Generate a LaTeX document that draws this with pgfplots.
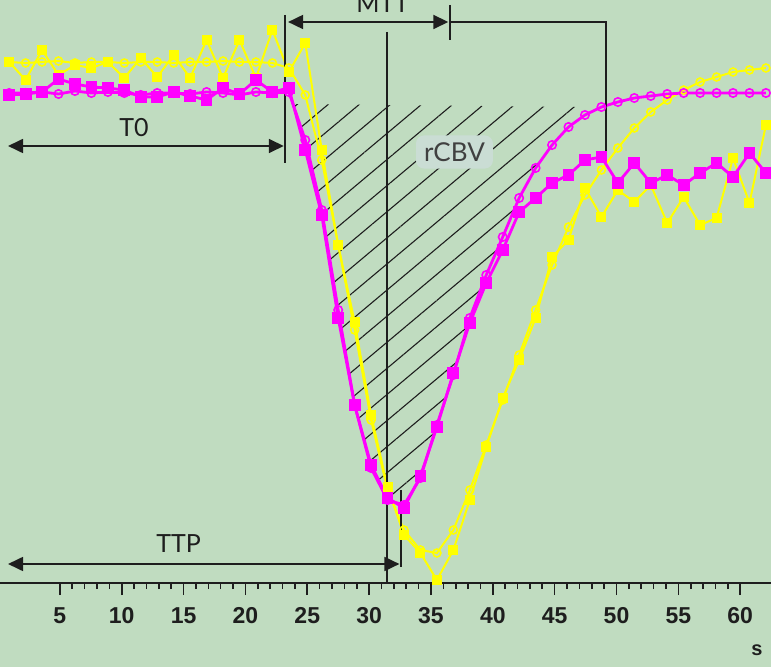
\documentclass[border=0pt]{standalone}
\usepackage{fontspec}
\setmainfont{Lato}
\newfontfamily\tickfont{Liberation Sans}
\usepackage{pgfplots}
\usepackage{pgfplotstable}
\pgfplotsset{compat=1.18}
\usetikzlibrary{arrows.meta,patterns.meta}

\definecolor{bg}{HTML}{C0DCC0}
\definecolor{ylw}{HTML}{FFFF00}
\definecolor{mag}{HTML}{FF00FF}
\definecolor{ink}{HTML}{1E1E1E}
\definecolor{boxbg}{HTML}{CADDD4}

% t = time (s); ys/yc = yellow raw/fit, ms/mc = magenta raw/fit (signal, arbitrary units)
\pgfplotstableread{
t     ys   yc   ms   mc
0.90  521  521  488  490
2.23  503  520  489  490
3.56  533  521  491  491
4.89  508  522  504  489
6.22  518  520  499  492
7.55  515  521  496  490
8.88  521  521  495  491
10.21 505  520  493  490
11.54 525  521  486  488
12.87 506  521  486  490
14.20 528  520  491  490
15.53 505  521  487  489
16.86 543  521  483  491
18.19 505  522  495  490
19.52 543  521  489  488
20.85 505  521  503  491
22.18 553  520  491  490
23.51 511  515  495  491
24.84 540  488  433  443
26.17 433  423  368  373
27.50 338  338  265  273
28.83 261  253  178  178
30.16 168  163  118  115
31.49 96   93   85   83
32.82 48   53   75   78
34.15 30   33   107  105
35.48 3    30   156  158
36.81 33   53   210  208
38.14 83   93   260  265
39.47 136  138  300  308
40.80 185  183  333  346
42.13 223  228  371  385
43.46 265  273  385  415
44.79 326  318  400  438
46.12 343  356  408  456
47.45 395  388  423  468
48.78 366  413  426  476
50.11 393  435  400  481
51.44 381  455  420  485
52.77 398  471  400  487
54.10 360  483  408  489
55.43 386  493  398  490
56.76 358  501  410  490
58.09 365  506  420  490
59.42 425  511  406  490
60.75 380  513  430  490
62.08 458  515  410  490
}\curves

% area under the fitted magenta curve (rCBV)
\pgfplotstableread{
t     y
23.77 479
24.84 443
26.17 373
27.50 273
28.83 178
30.16 115
31.49 83
32.82 78
34.15 105
35.48 158
36.81 208
38.14 265
39.47 308
40.80 346
42.13 385
43.46 415
44.79 438
46.12 456
46.75 476
}\hatch

\begin{document}
\begin{tikzpicture}
\begin{axis}[
    scale only axis,
    width=771pt, height=667pt,
    xmin=0.16, xmax=62.49, ymin=-84, ymax=583,
    axis x line=middle, axis y line=none,
    axis line style={-, ink, line width=1.6pt},
    x axis line style={-},
    axis background/.style={fill=bg},
    xtick={5,10,...,60}, minor x tick num=4,
    tick align=outside,
    major tick length=12pt, minor tick length=6pt,
    tick style={ink, line width=1.6pt},
    /pgf/number format/assume math mode=true,
    xticklabel style={font=\tickfont\bfseries\fontsize{23}{23}\selectfont, text=ink, yshift=-9pt},
    clip=false,
]
\addplot[draw=none, pattern={Lines[angle=40,distance=20pt,line width=1.1pt]}, pattern color=ink] table[x=t,y=y] {\hatch} -- cycle;

\addplot[ylw, line width=2pt, mark=o, mark size=4pt, mark options={line width=1.6pt}] table[x=t,y=yc] {\curves};
\addplot[ylw, line width=2pt, mark=square*, mark size=4pt] table[x=t,y=ys] {\curves};
\addplot[mag, line width=2.8pt, mark=o, mark size=4.2pt, mark options={line width=1.6pt}] table[x=t,y=mc] {\curves};
\addplot[mag, line width=2.8pt, mark=square*, mark size=4.5pt] table[x=t,y=ms] {\curves};

% annotations
\tikzset{tip/.tip={Triangle[length=15pt,width=14pt]}}
\draw[ink, line width=1.8pt, tip-tip] (0.81,437) -- (23.1,437);
\draw[ink, line width=1.8pt] (23.2,568) -- (23.2,420);
\draw[ink, line width=1.8pt, tip-tip] (23.45,561) -- (36.4,561);
\draw[ink, line width=1.8pt] (36.55,578) -- (36.55,543);
\draw[ink, line width=1.8pt] (36.55,561) -- (49.15,561) -- (49.15,420);
\draw[ink, line width=1.8pt] (31.45,551) -- (31.45,0);
\draw[ink, line width=1.8pt, tip-tip] (0.81,19) -- (32.45,19);
\draw[ink, line width=1.8pt] (32.58,93) -- (32.58,16);

\node[font=\fontsize{25}{25}\selectfont, text=ink, anchor=base] at (axis cs:11.0,446) {T0};
\node[font=\fontsize{25}{25}\selectfont, text=ink, anchor=base] at (axis cs:31.1,570) {MTT};
\node[font=\fontsize{25}{25}\selectfont, text=ink, anchor=base] at (axis cs:14.6,30) {TTP};
\node[font=\fontsize{26}{26}\selectfont, text=ink!85, fill=boxbg, rounded corners=8pt, inner xsep=8pt, inner ysep=7pt] at (axis cs:36.9,431) {rCBV};
\node[font=\tickfont\bfseries\fontsize{20}{20}\selectfont, text=ink] at (axis cs:61.36,-67) {s};
\end{axis}
\pgfresetboundingbox
\path[use as bounding box] (current axis.south west) rectangle (current axis.north east);
\end{tikzpicture}
\end{document}
